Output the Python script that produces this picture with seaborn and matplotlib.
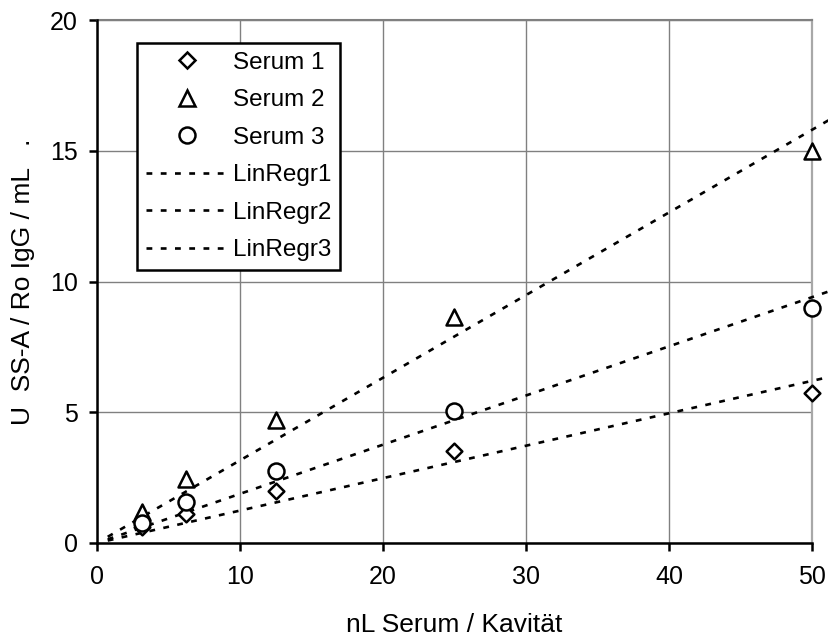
import numpy as np
import pandas as pd
import matplotlib
matplotlib.use("Agg")
import matplotlib.pyplot as plt
from matplotlib.lines import Line2D
import seaborn as sns

# ---- data ----
x_vals = [3.125, 6.25, 12.5, 25, 50]
serum1 = [0.6, 1.1, 2.0, 3.5, 5.75]
serum2 = [1.2, 2.45, 4.7, 8.65, 15.0]
serum3 = [0.75, 1.55, 2.75, 5.05, 9.0]
series_names = ["Serum 1", "Serum 2", "Serum 3"]
reg_names = ["LinRegr1", "LinRegr2", "LinRegr3"]
reg_slopes = [0.124, 0.316, 0.188]   # regression through origin
reg_x_range = [0.75, 52.0]
x_ticks = [0, 10, 20, 30, 40, 50]
y_ticks = [0, 5, 10, 15, 20]
x_label = "nL Serum / Kavität"
y_label = "U  SS-A / Ro IgG / mL   ."

sns.set_theme(style="white")
plt.rcParams["font.family"] = ["Liberation Sans", "DejaVu Sans"]
plt.rcParams["font.size"] = 18
plt.rcParams["text.color"] = "black"
plt.rcParams["axes.labelcolor"] = "black"

fig = plt.figure(figsize=(8.29, 6.36), dpi=100)
ax = fig.add_axes([97 / 829, 1 - 543 / 636, (812 - 97) / 829, (543 - 20) / 636])

df = pd.DataFrame({
    "x": x_vals * 3,
    "y": serum1 + serum2 + serum3,
    "serie": sum([[n] * len(x_vals) for n in series_names], []),
})

markers = {"Serum 1": "D", "Serum 2": "^", "Serum 3": "o"}
msizes = {"Serum 1": 8.0, "Serum 2": 11.5, "Serum 3": 11.5}
edge_w = 1.8

dash = (0, (2.2, 3.2))

# regression lines
for name, slope in zip(reg_names, reg_slopes):
    xr = np.array(reg_x_range)
    sns.lineplot(x=xr, y=slope * xr, ax=ax, color="black", lw=1.9,
                 linestyle=dash, clip_on=False, zorder=3)

for name in series_names:
    sub = df[df["serie"] == name]
    sns.scatterplot(data=sub, x="x", y="y", ax=ax, marker=markers[name],
                    s=msizes[name] ** 2, facecolor="white", edgecolor="black",
                    linewidth=edge_w, zorder=4, clip_on=False, legend=False)

ax.set_xlim(0, 50)
ax.set_ylim(0, 20)
ax.set_xticks(x_ticks)
ax.set_yticks(y_ticks)
ax.set_xticklabels([str(t) for t in x_ticks])
ax.set_yticklabels([str(t) for t in y_ticks])

ax.grid(True, color="#808080", lw=1.0)
ax.set_axisbelow(True)

for s in ["left", "bottom"]:
    ax.spines[s].set_color("black")
    ax.spines[s].set_linewidth(1.8)
    ax.spines[s].set_zorder(5)
ax.spines["top"].set_color("#808080")
ax.spines["top"].set_linewidth(1.5)
ax.spines["right"].set_color("#a8a8a8")
ax.spines["right"].set_linewidth(1.6)

ax.tick_params(axis="both", which="major", direction="out", length=6, width=1.8,
               color="black", labelsize=18, labelcolor="black",
               left=True, bottom=True, top=False, right=False)
ax.tick_params(axis="y", pad=8)
ax.tick_params(axis="x", pad=10)

ax.set_xlabel(x_label, fontsize=19, color="black")
ax.set_ylabel(y_label, fontsize=19, color="black")
ax.xaxis.set_label_coords(0.5, (543 - 625) / 523)
ax.xaxis.label.set_va("center")
ax.yaxis.set_label_coords((23 - 97) / 715, 0.5)
ax.yaxis.label.set_va("center")

handles = []
for name in series_names:
    handles.append(Line2D([], [], marker=markers[name], linestyle="none",
                          markersize=msizes[name], markerfacecolor="white",
                          markeredgecolor="black", markeredgewidth=edge_w))
for name in reg_names:
    handles.append(Line2D([], [], color="black", lw=1.9, linestyle=dash))
leg = ax.legend(handles, series_names + reg_names, loc="upper left",
                bbox_to_anchor=(137 / 829, 1 - 43 / 636),
                bbox_transform=fig.transFigure, borderaxespad=0,
                frameon=True, fancybox=False, shadow=False, framealpha=1,
                edgecolor="black", facecolor="white", fontsize=17.5,
                handlelength=3.4, handletextpad=0.2, labelspacing=0.64,
                borderpad=0.35, labelcolor="black")
leg.get_frame().set_linewidth(1.8)
leg.set_zorder(10)

fig.savefig("out.png", dpi=100)
